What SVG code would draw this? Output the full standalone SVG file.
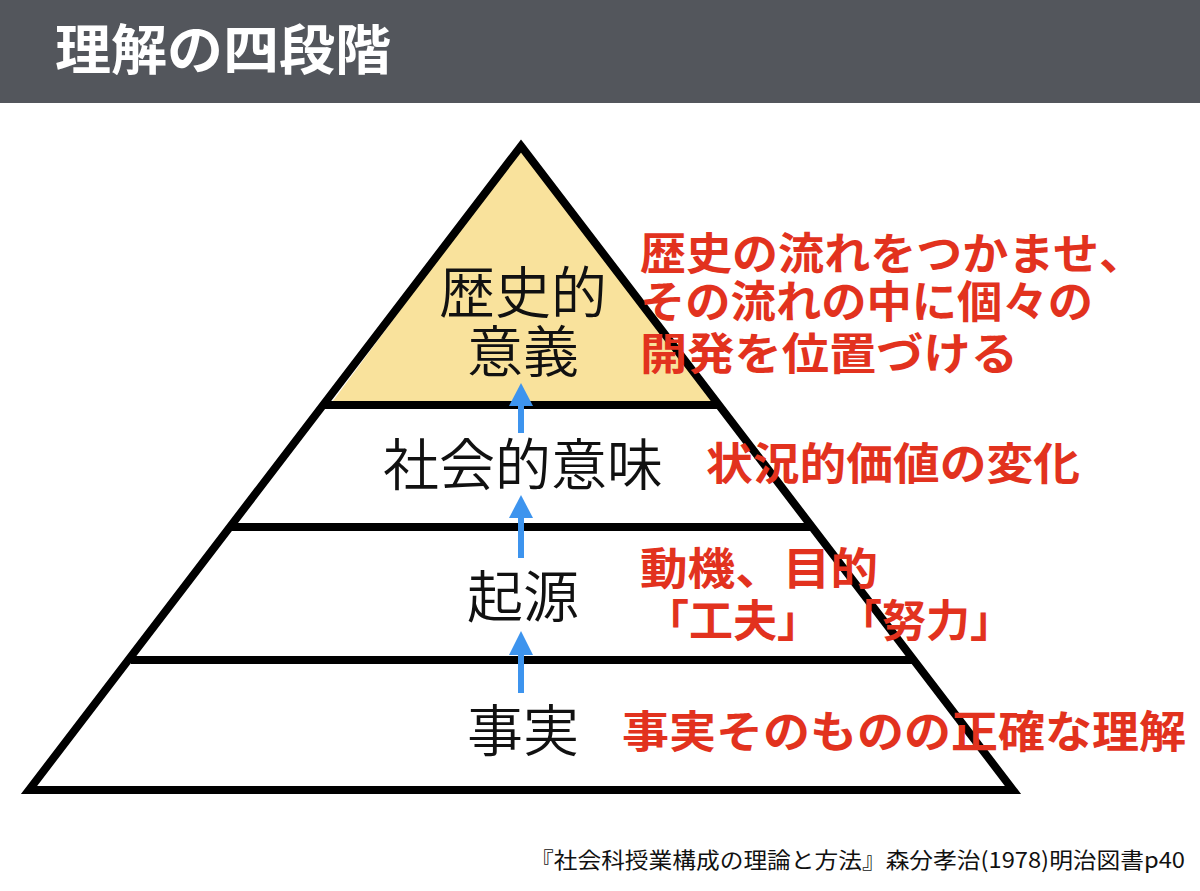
<svg xmlns="http://www.w3.org/2000/svg" width="1200" height="891" viewBox="0 0 1200 891">
<style>
.lbl{font-family:"Noto Sans CJK JP","Noto Sans CJK SC",sans-serif;font-weight:350;font-size:56px;fill:#111;text-anchor:middle}
.red{font-family:"Noto Sans CJK JP","Noto Sans CJK SC",sans-serif;font-weight:700;font-size:44px;fill:#E2321E}
.ln{stroke:#000;stroke-width:8;fill:none}
.arr{fill:#3D94EE}
</style>
<rect x="0" y="0" width="1200" height="891" fill="#fff"/>
<g id="title">
<rect x="0" y="0" width="1200" height="103" fill="#53565C"/>
<text x="55" y="70" font-family="Noto Sans CJK JP, sans-serif" font-weight="700" font-size="54" fill="#fff" textLength="336" lengthAdjust="spacingAndGlyphs">理解の四段階</text>
</g>
<g id="pyramid">
<polygon points="521,147 721,405 330,405" fill="#F9E29C"/>
<polygon class="ln" points="521,146 1013,790 29,790" stroke-linejoin="miter"/>
<line class="ln" x1="325" y1="405" x2="718" y2="405"/>
<line class="ln" x1="232" y1="527" x2="812" y2="527"/>
<line class="ln" x1="131" y1="660" x2="914" y2="660"/>
</g>
<g id="level4">
<text class="lbl" x="523" y="313">歴史的</text>
<text class="lbl" x="523" y="372">意義</text>
</g>
<g id="level3"><text class="lbl" x="523" y="485">社会的意味</text></g>
<g id="level2"><text class="lbl" x="523" y="617">起源</text></g>
<g id="level1"><text class="lbl" x="523" y="751">事実</text></g>
<g id="connectors">
<rect class="arr" x="518" y="403" width="6" height="30"/>
<polygon class="arr" points="521,383 533,406 509,406"/>
<rect class="arr" x="518" y="515" width="6" height="43"/>
<polygon class="arr" points="521,495 533,518 509,518"/>
<rect class="arr" x="518" y="652" width="6" height="41"/>
<polygon class="arr" points="521,631 533,655 509,655"/>
</g>
<g id="notes">
<text class="red" x="640" y="270" textLength="505" lengthAdjust="spacingAndGlyphs">歴史の流れをつかませ、</text>
<text class="red" x="640" y="318" textLength="453" lengthAdjust="spacingAndGlyphs">その流れの中に個々の</text>
<text class="red" x="640" y="370" textLength="378" lengthAdjust="spacingAndGlyphs">開発を位置づける</text>
<text class="red" x="706" y="480" textLength="374" lengthAdjust="spacingAndGlyphs">状況的価値の変化</text>
<text class="red" x="640" y="585" textLength="238" lengthAdjust="spacingAndGlyphs">動機、目的</text>
<text class="red" y="637"><tspan x="645">「工夫」</tspan><tspan x="838">「努力」</tspan></text>
<text class="red" x="622" y="748" textLength="564" lengthAdjust="spacingAndGlyphs">事実そのものの正確な理解</text>
</g>
<g id="footer">
<text x="1185" y="868" font-family="Noto Sans CJK JP, sans-serif" font-size="22" fill="#111" text-anchor="end" textLength="655" lengthAdjust="spacingAndGlyphs">『社会科授業構成の理論と方法』森分孝治(1978)明治図書p40</text>
</g>
</svg>
